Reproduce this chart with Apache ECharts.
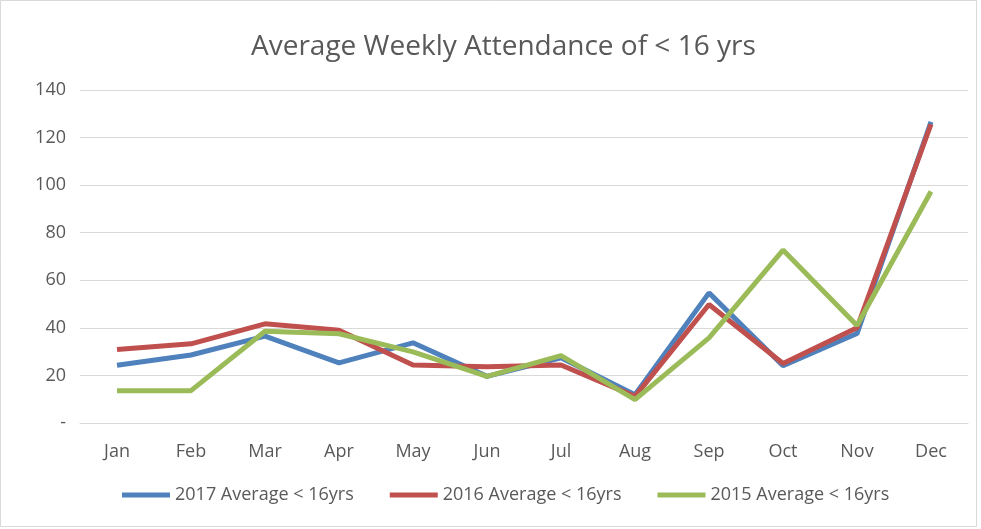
<!DOCTYPE html>
<html>
<head>
<meta charset="utf-8">
<script src="https://cdn.jsdelivr.net/npm/echarts@6/dist/echarts.min.js"></script>
<style>
  html, body { margin: 0; padding: 0; background: #fff; }
  #container { width: 981px; height: 529px; }
</style>
</head>
<body>
<div id="container"></div>
<script>
var months = ['Jan', 'Feb', 'Mar', 'Apr', 'May', 'Jun', 'Jul', 'Aug', 'Sep', 'Oct', 'Nov', 'Dec'];
var avg2017 = [24.3, 28.6, 36.5, 25.3, 33.7, 19.6, 27.4, 11.9, 54.7, 24.1, 37.6, 126.6];
var avg2016 = [30.9, 33.3, 41.7, 39.0, 24.4, 23.6, 24.4, 11.2, 49.8, 25.0, 40.0, 125.6];
var avg2015 = [13.6, 13.6, 38.6, 37.5, 29.9, 19.6, 28.3, 9.8, 35.8, 72.7, 41.0, 97.3];

var font = "'Open Sans', sans-serif";
var textColor = '#595959';

var dom = document.getElementById('container');
var myChart = echarts.init(dom, null, { renderer: 'canvas' });

function line(name, data, color) {
  return {
    name: name,
    type: 'line',
    data: data,
    showSymbol: false,
    symbol: 'none',
    lineStyle: { width: 5, color: color },
    itemStyle: { color: color }
  };
}

var option = {
  animation: false,
  backgroundColor: '#fff',
  graphic: [{
    type: 'rect',
    shape: { x: 0.5, y: 0.5, width: 976, height: 526 },
    style: { fill: 'none', stroke: '#d9d9d9', lineWidth: 1 },
    silent: true
  }],
  title: {
    text: 'Average Weekly Attendance of < 16 yrs',
    left: 246,
    top: 28,
    textStyle: { fontFamily: font, fontSize: 28, fontWeight: 'normal', color: textColor }
  },
  legend: {
    bottom: 20,
    left: 117,
    icon: 'rect',
    itemWidth: 48,
    itemHeight: 5,
    itemGap: 36,
    textStyle: { fontFamily: font, fontSize: 18, color: textColor },
    data: ['2017 Average < 16yrs', '2016 Average < 16yrs', '2015 Average < 16yrs']
  },
  grid: { left: 80, right: 13, top: 90, bottom: 106 },
  xAxis: {
    type: 'category',
    data: months,
    boundaryGap: true,
    axisLine: { show: true, lineStyle: { color: '#d9d9d9' } },
    axisTick: { show: false },
    axisLabel: { fontFamily: font, fontSize: 18, color: textColor, margin: 20 }
  },
  yAxis: {
    type: 'value',
    min: 0,
    max: 140,
    interval: 20,
    axisLine: { show: false },
    axisTick: { show: false },
    splitLine: { lineStyle: { color: '#d9d9d9', width: 1 } },
    axisLabel: {
      fontFamily: font, fontSize: 18, color: textColor, margin: 14,
      formatter: function (v) { return v === 0 ? '-' : v; }
    }
  },
  series: [
    line('2017 Average < 16yrs', avg2017, '#4f81bd'),
    line('2016 Average < 16yrs', avg2016, '#c0504d'),
    line('2015 Average < 16yrs', avg2015, '#9bbb59')
  ]
};

myChart.setOption(option);
window.addEventListener('resize', myChart.resize);
</script>
</body>
</html>
